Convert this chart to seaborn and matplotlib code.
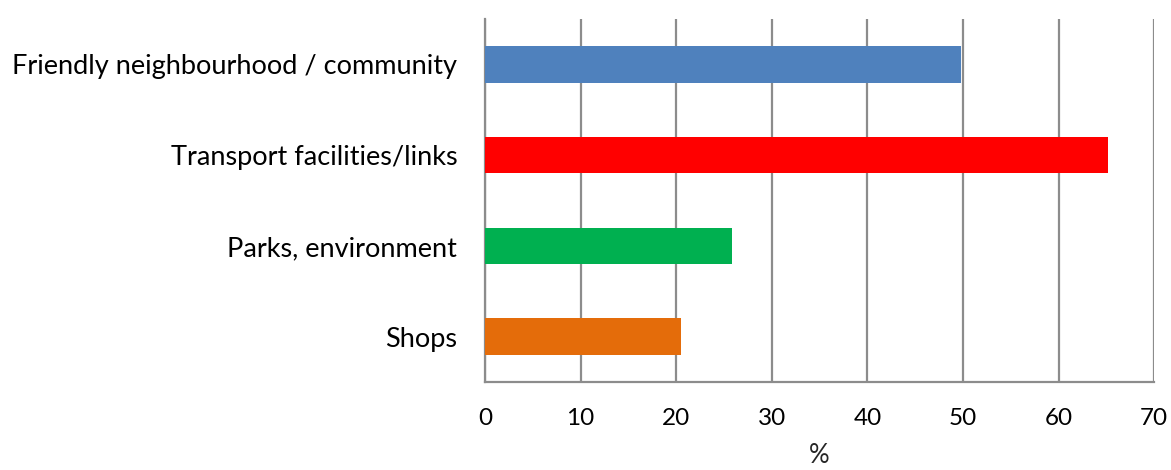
import matplotlib
matplotlib.use("Agg")
import matplotlib.pyplot as plt
import seaborn as sns
import pandas as pd

categories = ["Friendly neighbourhood / community", "Transport facilities/links",
              "Parks, environment", "Shops"]
values = [49.8, 65.2, 25.8, 20.5]
colors = ["#4F81BD", "#FF0000", "#00B050", "#E46C0A"]
x_ticks = [0, 10, 20, 30, 40, 50, 60, 70]
x_label = "%"

sns.set_style("white")
plt.rcParams["font.family"] = ["Lato", "DejaVu Sans"]

df = pd.DataFrame({"category": categories, "value": values})

fig = plt.figure(figsize=(11.71, 4.70), dpi=100)
ax = fig.add_axes([485 / 1171, 1 - 382 / 470, (1154.3 - 485) / 1171, (382 - 19) / 470])

sns.barplot(data=df, x="value", y="category", hue="category", palette=colors,
            orient="h", width=0.4, legend=False, ax=ax, zorder=3, saturation=1,
            linewidth=0, edgecolor="none")

grid_col = "#8C8C8C"
ax.set_xlim(0, 70)
ax.set_ylim(3.5, -0.5)
ax.set_xticks(x_ticks)
ax.set_xticklabels([str(t) for t in x_ticks])
ax.xaxis.grid(True, color=grid_col, linewidth=1.6, zorder=0)
ax.set_axisbelow(True)

# category boundary ticks on the value axis
ax.set_yticks([-0.5, 0.5, 1.5, 2.5, 3.5], minor=True)
ax.set_yticks([0, 1, 2, 3])
ax.tick_params(axis="y", which="major", length=0, pad=20, labelsize=19.5, labelcolor="#000000")
ax.tick_params(axis="y", which="minor", length=9, width=1.6, color=grid_col, direction="out")
ax.tick_params(axis="x", length=9, width=1.6, color=grid_col, direction="out",
               labelsize=17.5, pad=10, labelcolor="#000000")

for s in ["top", "right"]:
    ax.spines[s].set_visible(False)
for s in ["left", "bottom"]:
    ax.spines[s].set_color(grid_col)
    ax.spines[s].set_linewidth(1.6)

ax.set_ylabel("")
ax.set_xlabel(x_label, fontsize=18.5, labelpad=10)

fig.savefig("out.png", dpi=100)
